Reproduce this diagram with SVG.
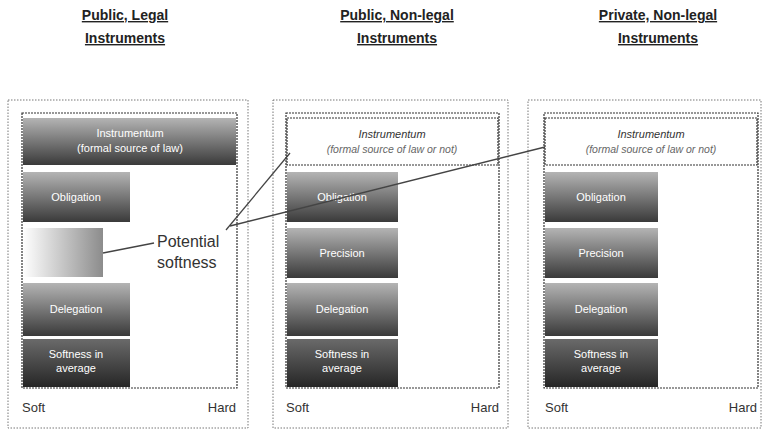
<svg xmlns="http://www.w3.org/2000/svg" width="763" height="436" viewBox="0 0 763 436">
<defs>
<linearGradient id="gBar" x1="0" y1="0" x2="0" y2="1">
<stop offset="0" stop-color="#b4b4b4"/>
<stop offset="1" stop-color="#3a3a3a"/>
</linearGradient>
<linearGradient id="gDark" x1="0" y1="0" x2="0" y2="1">
<stop offset="0" stop-color="#6a6a6a"/>
<stop offset="1" stop-color="#262626"/>
</linearGradient>
<linearGradient id="gLight" x1="0" y1="0" x2="1" y2="0">
<stop offset="0" stop-color="#ffffff"/>
<stop offset="1" stop-color="#8c8c8c"/>
</linearGradient>
</defs>
<style>
.title{font-family:"Liberation Sans",Arial,sans-serif;font-size:14px;font-weight:bold;fill:#222;text-anchor:middle;text-decoration:underline}
.outer{fill:none;stroke:#777;stroke-width:1;stroke-dasharray:1.5 1.5}
.inner{fill:#fff;stroke:#333;stroke-width:1.2;stroke-dasharray:2 1}
.bt{font-family:"Liberation Sans",Arial,sans-serif;font-size:11px;fill:#fff;text-anchor:middle}
.it{font-family:"Liberation Sans",Arial,sans-serif;font-size:11px;fill:#333;text-anchor:middle;font-style:italic}
.it2{font-family:"Liberation Sans",Arial,sans-serif;font-size:10.5px;fill:#666;text-anchor:middle;font-style:italic}
.ax{font-family:"Liberation Sans",Arial,sans-serif;font-size:13px;fill:#333}
.ps{font-family:"Liberation Sans",Arial,sans-serif;font-size:16px;fill:#333}
.conn{stroke:#444;stroke-width:1.3;fill:none}
</style>
<g id="titles">
<text class="title" x="125" y="20">Public, Legal</text>
<text class="title" x="125" y="43">Instruments</text>
<text class="title" x="397" y="20">Public, Non-legal</text>
<text class="title" x="397" y="43">Instruments</text>
<text class="title" x="658" y="20">Private, Non-legal</text>
<text class="title" x="658" y="43">Instruments</text>
</g>
<g id="panel-public-legal">
<rect class="outer" x="8" y="100" width="240" height="328"/>
<rect class="inner" x="22" y="113" width="215" height="275"/>
<g id="pl-instrumentum">
<rect x="23" y="118" width="213" height="47" fill="url(#gBar)"/>
<text class="bt" x="130" y="137">Instrumentum</text>
<text class="bt" x="130" y="152">(formal source of law)</text>
</g>
<g id="pl-bar2">
<rect x="23" y="172" width="107" height="50" fill="url(#gBar)"/>
<text class="bt" x="76" y="201">Obligation</text>
</g>
<g id="pl-bar3">
<rect x="23" y="228" width="80" height="49" fill="url(#gLight)"/>
</g>
<g id="pl-bar4">
<rect x="23" y="283" width="107" height="53" fill="url(#gBar)"/>
<text class="bt" x="76" y="313">Delegation</text>
</g>
<g id="pl-avg">
<rect x="23" y="339" width="107" height="48" fill="url(#gDark)"/>
<text class="bt" x="76" y="358">Softness in</text>
<text class="bt" x="76" y="372">average</text>
</g>
<text class="ax" x="22" y="412">Soft</text>
<text class="ax" x="236" y="412" text-anchor="end">Hard</text>
</g>
<g id="panel-public-nonlegal">
<rect class="outer" x="273" y="100" width="235" height="328"/>
<rect class="inner" x="286" y="113" width="213" height="275"/>
<g id="pn-instrumentum">
<rect x="287" y="118" width="211" height="47" fill="#fff" stroke="#333" stroke-width="1.2" stroke-dasharray="2 1"/>
<text class="it" x="392" y="138">Instrumentum</text>
<text class="it2" x="392" y="153">(formal source of law or not)</text>
</g>
<g id="pn-bar2">
<rect x="287" y="172" width="111" height="50" fill="url(#gBar)"/>
<text class="bt" x="342" y="201">Obligation</text>
</g>
<g id="pn-bar3">
<rect x="287" y="228" width="111" height="50" fill="url(#gBar)"/>
<text class="bt" x="342" y="257">Precision</text>
</g>
<g id="pn-bar4">
<rect x="287" y="283" width="111" height="53" fill="url(#gBar)"/>
<text class="bt" x="342" y="313">Delegation</text>
</g>
<g id="pn-avg">
<rect x="287" y="339" width="111" height="48" fill="url(#gDark)"/>
<text class="bt" x="342" y="358">Softness in</text>
<text class="bt" x="342" y="372">average</text>
</g>
<text class="ax" x="286" y="412">Soft</text>
<text class="ax" x="499" y="412" text-anchor="end">Hard</text>
</g>
<g id="panel-private-nonlegal">
<rect class="outer" x="528" y="100" width="233" height="328"/>
<rect class="inner" x="544" y="113" width="214" height="275"/>
<g id="pv-instrumentum">
<rect x="545" y="118" width="212" height="47" fill="#fff" stroke="#333" stroke-width="1.2" stroke-dasharray="2 1"/>
<text class="it" x="651" y="138">Instrumentum</text>
<text class="it2" x="651" y="153">(formal source of law or not)</text>
</g>
<g id="pv-bar2">
<rect x="545" y="172" width="113" height="50" fill="url(#gBar)"/>
<text class="bt" x="601" y="201">Obligation</text>
</g>
<g id="pv-bar3">
<rect x="545" y="228" width="113" height="50" fill="url(#gBar)"/>
<text class="bt" x="601" y="257">Precision</text>
</g>
<g id="pv-bar4">
<rect x="545" y="283" width="113" height="53" fill="url(#gBar)"/>
<text class="bt" x="601" y="313">Delegation</text>
</g>
<g id="pv-avg">
<rect x="545" y="339" width="113" height="48" fill="url(#gDark)"/>
<text class="bt" x="601" y="358">Softness in</text>
<text class="bt" x="601" y="372">average</text>
</g>
<text class="ax" x="545" y="412">Soft</text>
<text class="ax" x="757" y="412" text-anchor="end">Hard</text>
</g>
<g id="potential-softness">
<text class="ps" x="157" y="247">Potential</text>
<text class="ps" x="157" y="268">softness</text>
</g>
<g id="connectors">
<line class="conn" x1="103" y1="253" x2="154" y2="243"/>
<line class="conn" x1="226" y1="230" x2="290" y2="153"/>
<line class="conn" x1="230" y1="226" x2="545" y2="147"/>
</g>
</svg>
